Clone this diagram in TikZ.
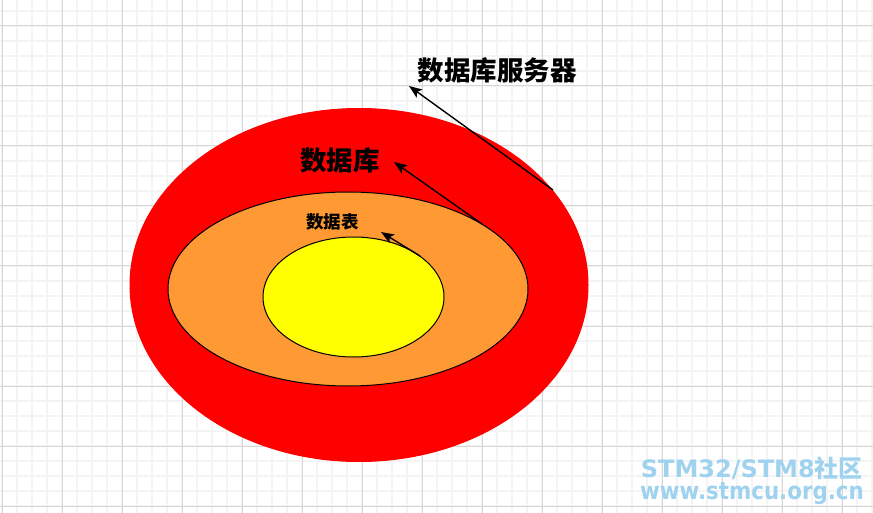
\documentclass[tikz,border=0pt]{standalone}
\usepackage{fontspec}
\usetikzlibrary{shapes.geometric,arrows.meta}
\newfontfamily\cjk{Noto Sans CJK SC}
\newfontfamily\wmfont{DejaVu Sans}
\definecolor{gridmajor}{RGB}{214,214,214}
\definecolor{gridminor}{RGB}{244,244,244}
\definecolor{dbred}{RGB}{255,0,0}
\definecolor{dborange}{RGB}{255,153,51}
\definecolor{dbyellow}{RGB}{255,255,0}
\definecolor{wmblue}{RGB}{158,210,238}
\tikzset{
  layer/.style={ellipse, inner sep=0pt, line width=1pt},
  lbl/.style={inner sep=0pt, font=\cjk\bfseries},
  arr/.style={line width=1.4pt, -{Stealth[length=13pt,width=10pt,inset=3pt]}},
  wm/.style={inner sep=0pt, text=wmblue, anchor=east},
}
\begin{document}
\begin{tikzpicture}[x=1pt,y=-1pt]
\useasboundingbox (0,0) rectangle (873,513);
\fill[white] (0,0) rectangle (873,513);
% grid
\foreach \x in {2,17,...,872} \draw[gridminor, line width=1.2pt] (\x,0) -- (\x,513);
\foreach \y in {11,26,...,512} \draw[gridminor, line width=1.2pt] (0,\y) -- (873,\y);
\foreach \x in {2,62,...,872} \draw[gridmajor, line width=1pt] (\x,0) -- (\x,513);
\foreach \y in {26,86,...,512} \draw[gridmajor, line width=1pt] (0,\y) -- (873,\y);
% layers
\node[layer, fill=dbred, draw=dbred, minimum width=458pt, minimum height=353pt] (server) at (359,285) {};
\node[layer, fill=dborange, draw=black, minimum width=360pt, minimum height=194pt] (db) at (348,289) {};
\node[layer, fill=dbyellow, draw=black, minimum width=181pt, minimum height=120pt] (table) at (353.5,297) {};
% labels
\node[lbl, font=\cjk\bfseries\fontsize{26.5}{30}\selectfont] (lserver) at (497,70.5) {数据库服务器};
\node[lbl, font=\cjk\bfseries\fontsize{26.5}{30}\selectfont] (ldb) at (340,160.5) {数据库};
\node[lbl, font=\cjk\bfseries\fontsize{17.5}{20}\selectfont] (ltable) at (332.5,221.5) {数据表};
% arrow ends
\coordinate (t1) at (553,190);
\coordinate (h1) at (409,86);
\coordinate (t2) at (482,224);
\coordinate (h2) at (394,162);
\coordinate (t3) at (420,256);
\coordinate (h3) at (381,232);
\draw[arr] (t1) -- (h1);
\draw[arr] (t2) -- (h2);
\draw[arr] (t3) -- (h3);
% watermark
\node[wm, font=\wmfont\bfseries\fontsize{24}{28}\selectfont] (wm1) at (863,468) {STM32/STM8{\cjk\bfseries 社区}};
\node[wm, font=\wmfont\bfseries\fontsize{24}{28}\selectfont] (wm2) at (864,494) {\scalebox{0.89}[1]{www.stmcu.org.cn}};
\end{tikzpicture}
\end{document}
